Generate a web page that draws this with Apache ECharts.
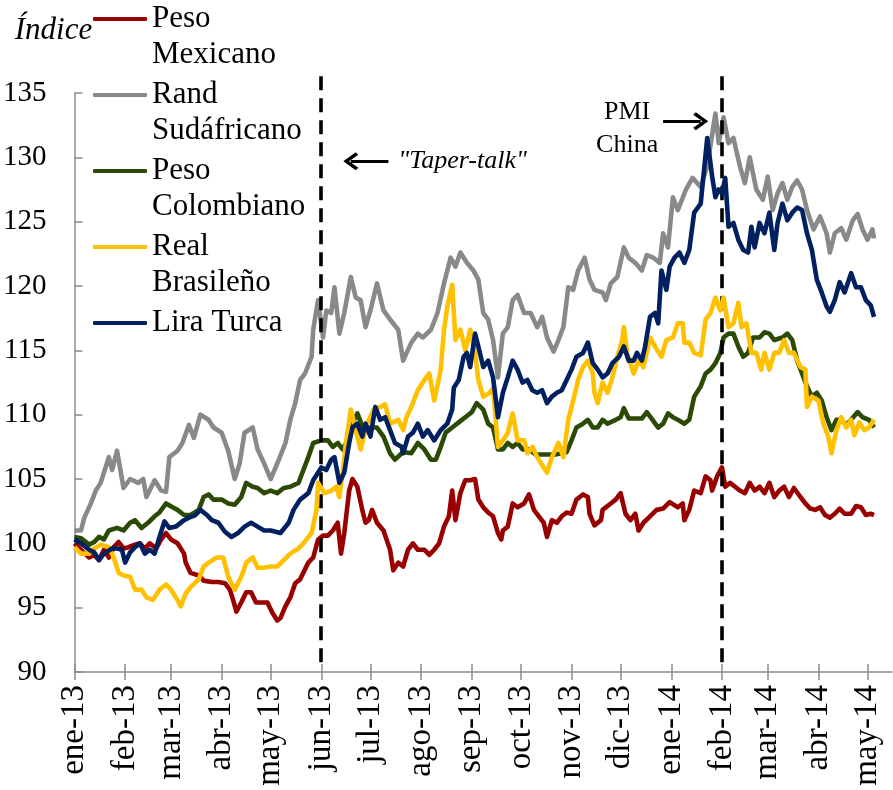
<!DOCTYPE html>
<html>
<head>
<meta charset="utf-8">
<script src="https://cdn.jsdelivr.net/npm/echarts@6/dist/echarts.min.js"></script>
<style>
html,body{margin:0;padding:0;background:#fff;}
#chart{width:893px;height:790px;}
</style>
</head>
<body>
<div id="chart"></div>
<script>
// x values are days since 2013-01-01
const monthDays = [0,31,59,90,120,151,181,212,243,273,304,334,365,396,424,455,485];
const monthLabels = ['ene-13','feb-13','mar-13','abr-13','may-13','jun-13','jul-13','ago-13','sep-13','oct-13','nov-13','dic-13','ene-14','feb-14','mar-14','abr-14','may-14'];
const seriesNames = ['Peso\nMexicano','Rand\nSudáfricano','Peso\nColombiano','Real\nBrasileño','Lira Turca'];

const pesoMexicano = [[0,100],[4,99.5],[9,98.9],[12,99.1],[15,98.7],[18,99.5],[21,98.9],[24,99.7],[27,100.1],[30,99.6],[33,99.7],[37,99.9],[40,100],[43,99.6],[46,100],[50,99.6],[53,100.3],[56,100.8],[59,100.3],[63,100],[67,99.2],[68,98.5],[71,97.7],[76,97.5],[79,97.1],[84,97],[88,97],[92,96.9],[95,96.4],[97,95.6],[99,94.7],[102,95.4],[105,96.2],[108,96.2],[111,95.4],[115,95.4],[118,95.4],[121,94.6],[124,94],[126,94.2],[129,95.1],[132,95.8],[135,96.9],[138,97.2],[143,98.5],[146,98.9],[149,100.3],[152,100.6],[155,100.6],[158,101],[161,101.6],[163,99.2],[165,100.8],[168,104.1],[170,105],[173,104.4],[176,102.6],[178,101.6],[180,101.8],[182,102.6],[185,101.6],[189,101],[190,100.6],[193,99.5],[195,97.9],[198,98.5],[201,98.2],[204,99.5],[207,100],[210,99.5],[214,99.5],[217,99.1],[220,99.5],[223,100],[226,101.3],[229,102.1],[231,104.1],[233,101.8],[236,103.9],[239,104.9],[242,104.9],[245,105],[247,103.4],[250,102.8],[253,102.4],[256,102.1],[259,100.8],[261,100.3],[262,101],[265,101.3],[268,103.1],[271,102.8],[275,103.1],[278,103.8],[281,102.6],[284,102.1],[287,101.6],[289,100.5],[292,101.8],[295,101.6],[298,102.1],[301,102.4],[304,102.3],[307,103.4],[311,103.8],[314,103.6],[315,102.3],[318,101.4],[322,101.8],[323,102.6],[328,103.1],[331,103.4],[334,103.9],[337,102.3],[340,101.8],[343,102.3],[345,101],[348,101.6],[352,102.1],[356,102.6],[360,102.7],[364,103.2],[369,102.8],[372,103.1],[373,101.8],[376,102.6],[379,104.1],[383,103.9],[386,105.2],[389,104.9],[390,104.1],[393,105.2],[396,105.9],[398,104.4],[401,104.7],[404,104.4],[407,104.1],[410,103.9],[413,104.7],[416,104.1],[419,104.4],[422,103.9],[425,104.7],[428,103.6],[431,104.1],[434,104.4],[437,103.6],[440,104.3],[444,103.6],[447,103.1],[450,102.7],[453,102.6],[456,102.8],[459,102.2],[462,102],[465,102.3],[468,102.7],[471,102.3],[475,102.3],[478,102.9],[481,102.8],[484,102.2],[487,102.3],[489,102.2]];

const randSudafricano = [[0,101],[4,101],[6,102],[10,103.1],[13,104.1],[16,104.7],[21,106.7],[23,105.7],[26,107.2],[30,104.3],[34,105],[39,104.7],[42,105],[44,103.6],[49,104.9],[53,104.1],[56,104],[58,106.7],[63,107.2],[66,107.8],[70,109.2],[73,108.2],[77,110],[82,109.6],[85,109],[90,108.6],[94,107.2],[98,105],[101,106.2],[104,108.6],[109,109],[112,107.3],[116,106.2],[120,105],[125,106.5],[129,107.8],[132,109.6],[135,110.9],[138,112.7],[141,113.2],[145,114.5],[146,116.6],[149,118.9],[152,116],[154,118.1],[157,117.9],[159,119.9],[162,116.3],[165,117.9],[169,120.7],[172,119.1],[175,118.9],[178,116.8],[181,118.1],[185,120.2],[189,118.1],[193,117.4],[198,116.6],[201,114.2],[206,115.6],[210,116.3],[213,116],[218,116.6],[222,117.9],[226,120.2],[230,122.2],[233,121.5],[236,122.6],[240,121.8],[244,121.2],[247,120.5],[250,117.9],[253,117.4],[256,115.8],[259,112.9],[262,116.3],[265,116.8],[268,118.9],[271,119.3],[275,117.9],[279,117.9],[283,116.8],[286,117.6],[289,116],[293,114.9],[296,115.8],[299,116.8],[302,119.9],[305,119.7],[308,121.2],[312,122.2],[315,120.5],[318,119.7],[323,119.5],[325,118.9],[328,120.2],[332,120.7],[336,123],[339,122.2],[343,121.8],[347,121.2],[350,122.4],[354,122.2],[358,121.8],[360,124.1],[363,123],[366,126.9],[369,125.9],[374,127.5],[378,128.4],[383,127.7],[387,129.3],[392,133.4],[394,131.1],[397,133.1],[400,131.1],[403,131.5],[407,129.3],[410,128],[413,130],[417,127.5],[421,126.7],[424,128.5],[427,125.9],[430,127.2],[433,128],[436,126.7],[439,127.7],[442,128.2],[445,127.5],[448,125.9],[452,124.4],[456,125.4],[460,124.1],[462,122.6],[465,124.1],[469,124.5],[472,123.6],[476,125.1],[479,125.6],[482,124.4],[485,123.6],[488,124.4],[489,123.7]];

const pesoColombiano = [[0,100.5],[4,100.4],[9,99.9],[12,100.1],[15,100.5],[18,100.3],[21,101],[26,101.2],[30,101],[34,101.6],[37,101.8],[41,101.2],[45,101.6],[49,102.1],[52,102.4],[56,103.1],[60,102.8],[63,102.6],[67,102.2],[71,102.2],[76,102.6],[79,103.6],[82,103.8],[85,103.4],[90,103.4],[94,103.1],[98,103],[102,103.6],[105,104.7],[109,104.4],[112,104.3],[116,103.9],[120,104.1],[124,103.9],[128,104.3],[132,104.4],[137,104.7],[140,105.7],[143,106.7],[146,107.8],[151,108],[155,108],[158,107.5],[161,107.8],[164,107.3],[167,108],[170,109.3],[173,110.1],[177,108.8],[181,109],[185,109],[189,108.3],[193,107],[196,106.5],[201,107.1],[206,107],[210,107.8],[214,107.3],[218,106.5],[221,106.5],[224,107.5],[227,108.6],[231,109],[235,109.4],[239,109.8],[243,110.2],[246,110.9],[250,110.4],[253,109.3],[256,109],[259,107.3],[262,107.3],[265,107.8],[268,107.5],[271,107.8],[274,107.3],[278,107.3],[282,106.9],[286,106.9],[290,106.9],[294,106.9],[298,107],[301,107.1],[304,108],[307,109],[311,109.3],[314,109.6],[317,109],[320,109],[323,109.6],[326,109.3],[331,109.6],[334,109.8],[336,110.5],[339,109.7],[343,109.7],[347,109.7],[350,110.2],[353,109.7],[357,109],[360,109.3],[363,110.1],[366,109.8],[369,109.6],[373,109.3],[376,109.6],[379,111.4],[383,112.2],[386,113.2],[389,113.5],[392,114],[395,114.8],[397,116],[400,116.3],[403,116.3],[406,115.3],[409,114.5],[412,114.8],[415,116],[419,116],[422,116.4],[425,116.3],[428,115.8],[433,116],[436,116.3],[439,115.8],[442,114.2],[445,113.2],[448,112.2],[451,111.4],[454,111.7],[457,111.1],[460,109.8],[463,108.8],[466,109.6],[469,109.6],[472,109.2],[475,109.6],[479,110.2],[482,109.8],[486,109.6],[489,109]];

const realBrasileno = [[0,99.7],[4,99.2],[9,99.2],[12,99.6],[16,99.9],[21,99.7],[24,98.9],[27,97.7],[30,97.5],[34,97.4],[37,96.4],[41,96.4],[44,95.8],[48,95.6],[52,96.4],[56,96.8],[59,96.4],[63,95.6],[65,95.1],[68,96.1],[71,96.6],[76,97.2],[79,98.2],[82,98.5],[87,98.9],[91,98.9],[94,97.4],[98,96.4],[102,97.4],[105,98.5],[109,98.9],[112,98.1],[116,98.1],[120,98.2],[124,98.2],[128,98.7],[132,99.2],[137,99.6],[140,100],[145,100.8],[148,102.6],[149,104.7],[153,103.9],[157,104.1],[160,104.4],[162,103.6],[164,105.5],[166,107.8],[169,110.4],[172,108.8],[175,107.3],[179,109.3],[183,110.4],[187,110.6],[190,110.8],[193,109.3],[198,109.6],[201,108.8],[203,109.8],[206,110.6],[210,111.9],[214,112.7],[217,113.2],[220,111.1],[224,113.5],[226,116.6],[228,118.4],[231,120.1],[233,115.8],[236,116.6],[239,115],[242,116.6],[245,114.8],[247,112.7],[250,111.4],[254,111.7],[256,112.1],[259,107.5],[262,108],[265,108.6],[268,110.1],[271,108],[275,108],[277,107],[280,107.5],[283,106.7],[287,105.9],[289,105.5],[292,106.7],[296,107.8],[299,106.7],[302,109.6],[305,111.1],[308,112.7],[311,113.7],[314,114.2],[317,113.2],[318,111.7],[320,110.9],[323,112.5],[326,111.7],[329,112.9],[332,114.5],[335,115.8],[336,116.8],[338,114.8],[342,113.2],[345,114.2],[348,113.7],[352,116],[355,115.3],[359,114.5],[362,115.8],[366,116],[369,117.1],[372,117.1],[373,115.6],[376,115.6],[379,114.8],[383,114.6],[386,117.4],[389,117.9],[392,119.1],[395,118.1],[397,119.1],[400,116.8],[403,117.1],[406,118.7],[408,116.8],[411,117.1],[414,114.8],[417,114.8],[420,113.5],[422,114.8],[425,113.5],[428,114.8],[431,114.8],[434,115.8],[437,114.8],[440,114.8],[444,113.7],[447,113.5],[448,110.6],[451,111.4],[455,111.1],[458,109.3],[461,108.3],[463,107],[466,108.8],[469,109.8],[472,109],[475,109.6],[477,108.4],[480,109.4],[483,108.8],[486,109],[489,109.6]];

const liraTurca = [[0,100.3],[4,100],[9,99.5],[12,99.3],[15,98.7],[18,99.2],[23,99.6],[26,99.6],[29,99.5],[31,98.5],[34,99.3],[37,99.7],[40,100],[43,99.2],[46,99.5],[49,99.2],[52,100.5],[55,101.7],[58,101.2],[62,101.3],[67,101.8],[70,102],[74,102.2],[77,102.6],[81,102.2],[84,101.8],[88,101.6],[92,100.9],[96,100.5],[100,100.8],[104,101.3],[108,101.6],[112,101.3],[116,101],[120,101],[126,100.8],[131,101.6],[134,102.6],[138,103.4],[143,103.9],[146,104.9],[151,105.9],[154,105.7],[157,106.5],[159,106.7],[162,104.7],[165,105.5],[168,107.8],[170,109],[173,109.3],[176,108.3],[178,109.3],[181,108.3],[184,110.6],[187,109.6],[190,109.8],[193,108.8],[196,107.8],[200,107.5],[201,107],[204,108.3],[207,108.6],[210,109.3],[213,108.3],[216,108.8],[220,108],[224,108.8],[228,109.3],[231,110.4],[232,112.1],[235,112.7],[238,114.5],[240,114.8],[242,113.7],[245,116.3],[247,115.3],[250,113.7],[253,114.2],[256,112.9],[259,109.8],[262,111.7],[265,112.9],[268,114.2],[271,113.5],[274,112.5],[277,112.7],[280,111.9],[283,111.7],[286,111.9],[289,110.9],[292,111.4],[295,111.7],[298,111.9],[301,112.7],[304,113.5],[307,114.5],[311,114.8],[314,115.6],[317,114],[320,113.5],[323,112.9],[326,113.2],[329,114],[333,114.5],[336,115.3],[339,114.2],[342,114.2],[344,114.8],[347,114.2],[349,115.3],[352,117.6],[355,117.9],[357,117.1],[359,121.2],[362,119.7],[364,121.5],[367,122.2],[370,122.6],[373,121.8],[376,122.8],[379,125.7],[383,126.4],[384,127.7],[387,131.5],[390,128.5],[392,126.9],[394,127.5],[396,127.2],[398,128.4],[400,124.6],[403,124.9],[406,123.6],[409,122.8],[412,122.6],[414,124.6],[416,123],[419,124.9],[422,124.1],[425,125.7],[428,122.8],[430,124.9],[433,126.4],[436,125.1],[439,125.7],[442,126.1],[445,125.9],[448,124.1],[451,122.8],[454,120.5],[457,119.5],[460,118.4],[462,118],[465,118.9],[468,120.3],[471,119.5],[475,121],[478,119.9],[481,119.9],[484,118.9],[487,118.5],[489,117.6]];

const seriesData = [pesoMexicano, randSudafricano, pesoColombiano, realBrasileno, liraTurca];
const seriesColors = ['#990000','#898989','#2b4a06','#ffc000','#002060'];

// event markers (days since 2013-01-01, index values)
const eventDays = [151, 396];
const taperArrow = [[192,129.7],[169,129.7]];
const taperText = [198,129.7];
const pmiArrow = [[360,132.8],[383,132.8]];
const pmiText = [338,132.2];

const FONT = '"Liberation Serif","Times New Roman",serif';
const chevron = 'path://M10,0 L20,12 L17.2,14.5 L10,5.5 L2.8,14.5 L0,12 Z';

const series = seriesNames.map((name, i) => ({
  name: name,
  type: 'line',
  data: seriesData[i],
  symbol: 'none',
  lineStyle: {width: 4.6, color: seriesColors[i], join: 'round'},
  itemStyle: {color: seriesColors[i]},
  z: 2 + i,
  animation: false
}));

series[4].markLine = {
  silent: true,
  animation: false,
  symbol: ['none','none'],
  label: {show: false},
  lineStyle: {type: 'solid', width: 3, color: '#000'},
  data: [
    [{coord: taperArrow[0], symbol: 'none'}, {coord: taperArrow[1], symbol: chevron, symbolSize: [18, 15]}],
    [{coord: pmiArrow[0], symbol: 'none'}, {coord: pmiArrow[1], symbol: chevron, symbolSize: [18, 15]}]
  ]
};
series[4].markPoint = {
  silent: true,
  animation: false,
  symbol: 'circle',
  symbolSize: 0,
  data: [
    {coord: taperText, label: {show: true, position: 'inside', align: 'left', verticalAlign: 'middle', formatter: '"Taper-talk"', fontFamily: FONT, fontStyle: 'italic', fontSize: 26, color: '#000'}},
    {coord: pmiText, label: {show: true, position: 'inside', align: 'center', verticalAlign: 'middle', formatter: 'PMI\nChina', fontFamily: FONT, fontSize: 26, lineHeight: 33, color: '#000'}}
  ]
};

// overlay series (taller hidden grid) carrying the dashed event lines
series.push({
  name: 'eventos',
  type: 'line',
  xAxisIndex: 2,
  yAxisIndex: 1,
  data: [],
  symbol: 'none',
  z: 20,
  animation: false,
  markLine: {
    silent: true,
    animation: false,
    symbol: ['none', 'none'],
    label: {show: false},
    lineStyle: {type: [14, 8], width: 3.6, color: '#000'},
    data: eventDays.map(d => [{coord: [d, 136.3]}, {coord: [d, 90.55]}])
  }
});

const chart = echarts.init(document.getElementById('chart'), null, {renderer: 'canvas'});
chart.setOption({
  backgroundColor: '#fff',
  animation: false,
  grid: [
    {left: 73, right: 1, top: 93, bottom: 118, containLabel: false},
    {left: 73, right: 1, top: 75, bottom: 118, containLabel: false}
  ],
  legend: {
    data: seriesNames,
    orient: 'vertical',
    left: 93,
    top: -35,
    padding: 0,
    itemGap: -32,
    itemWidth: 54,
    itemHeight: 4,
    icon: 'roundRect',
    selectedMode: false,
    formatter: function (name) { return '\u00a0\n' + name + (name.indexOf('\n') < 0 ? '\n\u00a0' : ''); },
    textStyle: {fontFamily: FONT, fontSize: 31, lineHeight: 36, color: '#000'}
  },
  xAxis: [{
    type: 'value',
    gridIndex: 0,
    min: 0,
    max: 500,
    axisLine: {show: true, lineStyle: {color: '#8c8c8c', width: 1.5}},
    axisTick: {show: true, inside: false, length: 8, customValues: monthDays, lineStyle: {color: '#8c8c8c', width: 1.5}},
    axisLabel: {
      customValues: monthDays,
      rotate: 90,
      margin: 13,
      fontFamily: FONT,
      fontSize: 33,
      color: '#000',
      formatter: function (v) { const k = monthDays.indexOf(v); return k >= 0 ? monthLabels[k] : ''; }
    },
    splitLine: {show: false}
  }, {
    type: 'value',
    gridIndex: 0,
    min: 0,
    max: 500,
    position: 'bottom',
    axisLine: {show: false},
    axisTick: {show: true, inside: true, length: 8, customValues: monthDays, lineStyle: {color: '#8c8c8c', width: 1.5}},
    axisLabel: {show: false},
    splitLine: {show: false}
  }, {
    type: 'value',
    gridIndex: 1,
    min: 0,
    max: 500,
    show: false
  }],
  yAxis: [{
    type: 'value',
    gridIndex: 0,
    min: 90,
    max: 135,
    interval: 5,
    name: 'Índice',
    nameLocation: 'end',
    nameGap: 62,
    nameTextStyle: {fontFamily: FONT, fontStyle: 'italic', fontSize: 31, color: '#000', align: 'center', verticalAlign: 'middle', padding: [0, 42, 0, 0]},
    axisLine: {show: true, lineStyle: {color: '#8c8c8c', width: 1.5}},
    axisTick: {show: true, inside: true, length: 8, lineStyle: {color: '#8c8c8c', width: 1.5}},
    axisLabel: {fontFamily: FONT, fontSize: 29, color: '#000', margin: 28},
    splitLine: {show: false}
  }, {
    type: 'value',
    gridIndex: 1,
    min: 90,
    max: 136.4,
    show: false
  }],
  series: series
});
</script>
</body>
</html>
